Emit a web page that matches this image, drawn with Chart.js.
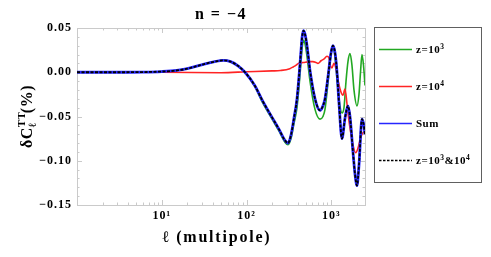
<!DOCTYPE html>
<html>
<head>
<meta charset="utf-8">
<script src="https://cdn.jsdelivr.net/npm/chart.js@4.4.1/dist/chart.umd.min.js"></script>
<style>
  html, body { margin: 0; padding: 0; background: #fff; }
  canvas { display: block; }
</style>
</head>
<body>
<canvas id="chart" width="491" height="257"></canvas>
<script>
// multipole l and delta C_l^TT (%)
const ellSum = [1, 3, 6, 10, 15, 20, 31, 42, 53, 65, 80, 96, 125, 156, 200, 240, 284, 309, 335, 363,
  394, 416, 440, 452, 470, 490, 517, 561, 643, 736, 798, 843, 915, 993, 1047, 1107, 1169, 1234, 1337, 1452,
  1574, 1663, 1803, 1905, 2011, 2123, 2303, 2400, 2500];
const sumVals = [0, 0, 0.0002, 0.0008, 0.002, 0.004, 0.009, 0.012, 0.0135, 0.012,
  0.007, 0.000, -0.015, -0.033, -0.051, -0.064, -0.077, -0.080, -0.071, -0.052,
  -0.030, -0.005, 0.025, 0.039, 0.047, 0.043, 0.030, 0.002, -0.030, -0.043,
  -0.038, -0.030, -0.005, 0.022, 0.030, 0.022, 0.000, -0.035, -0.075, -0.052,
  -0.038, -0.050, -0.090, -0.115, -0.128, -0.105, -0.053, -0.058, -0.070];

const ellZ3 = [1, 3, 6, 10, 15, 20, 31, 42, 53, 65, 80, 96, 125, 156, 200, 240, 284, 309, 335, 363,
  394, 416, 440, 452, 470, 490, 517, 561, 643, 736, 798, 843, 915, 993, 1047, 1107, 1169, 1234, 1337, 1413,
  1493, 1574, 1663, 1754, 1853, 2011, 2123, 2213, 2303, 2400, 2500];
const z3Vals = [0, 0, 0.0002, 0.0008, 0.002, 0.004, 0.009, 0.012, 0.0135, 0.012,
  0.007, 0.000, -0.016, -0.035, -0.053, -0.066, -0.079, -0.082, -0.075, -0.058,
  -0.040, -0.017, 0.012, 0.026, 0.036, 0.032, 0.018, -0.010, -0.042, -0.053,
  -0.050, -0.042, -0.012, 0.020, 0.029, 0.018, -0.008, -0.030, -0.046, -0.040,
  -0.010, 0.012, 0.021, 0.008, -0.020, -0.038, -0.025, 0.000, 0.020, 0.008,
  -0.015];

const ellZ4 = [1, 10, 50, 100, 200, 251, 324, 355, 385, 409, 470, 561, 607, 661, 697, 757, 823, 889, 938, 980,
  1020, 1074, 1137, 1196, 1298, 1372, 1452, 1530, 1617, 1710, 1803, 1940, 2065, 2180, 2303, 2400, 2500];
const z4Vals = [0, 0, -0.0005, 0.0005, 0.0015, 0.002, 0.004, 0.006, 0.008, 0.010,
  0.011, 0.012, 0.012, 0.011, 0.010, 0.013, 0.015, 0.018, 0.016, 0.007,
  0.005, 0.010, 0.004, -0.008, -0.022, -0.026, -0.019, -0.035, -0.055, -0.070,
  -0.082, -0.091, -0.086, -0.077, -0.070, -0.068, -0.067];

const xMajor = [10, 100, 1000];
const xLabels = { 10: '10\u00b9', 100: '10\u00b2', 1000: '10\u00b3' };
const yMajor = [-0.15, -0.10, -0.05, 0.00, 0.05];

const GREEN = '#22a822', RED = '#ff2424', BLUE = '#2626ff';
const SERIF = '"Liberation Serif", "DejaVu Serif", serif';

const toPts = (xs, ys) => xs.map((x, i) => ({ x: x, y: ys[i] }));

// text with raised / lowered pieces
function drawParts(ctx, parts, x, y, size) {
  let cx = x;
  parts.forEach(p => {
    const s = p.small ? size * 0.68 : size;
    ctx.font = 'bold ' + s + 'px ' + SERIF;
    ctx.fillText(p.t, cx, y + (p.dy || 0));
    if (p.adv !== undefined) cx += p.adv;
    else cx += ctx.measureText(p.t).width;
  });
  return cx - x;
}
function partsWidth(ctx, parts, size) {
  let w = 0;
  parts.forEach(p => {
    const s = p.small ? size * 0.68 : size;
    ctx.font = 'bold ' + s + 'px ' + SERIF;
    w += p.adv !== undefined ? p.adv : ctx.measureText(p.t).width;
  });
  return w;
}

const framePlugin = {
  id: 'frame',
  beforeDraw(chart) {
    chart.ctx.letterSpacing = '1px';
  },
  beforeDatasetsDraw(chart) {
    const { ctx, chartArea: a, scales: { x, y } } = chart;
    ctx.save();
    ctx.strokeStyle = '#cacaca';
    ctx.lineWidth = 1;
    ctx.strokeRect(a.left + 0.5, a.top + 0.5, a.right - a.left, a.bottom - a.top);
    ctx.beginPath();
    // log ticks, inward, top and bottom
    for (let d = 1; d <= 1000; d *= 10) {
      for (let k = 1; k <= 9; k++) {
        const v = d * k;
        if (v > 2500) break;
        const px = Math.round(x.getPixelForValue(v)) + 0.5;
        const len = k === 1 ? 5 : 2.5;
        ctx.moveTo(px, a.bottom); ctx.lineTo(px, a.bottom - len);
        ctx.moveTo(px, a.top); ctx.lineTo(px, a.top + len);
      }
    }
    // linear ticks, inward, left and right
    for (let i = 0; i <= 20; i++) {
      const v = -0.15 + i * 0.01;
      const py = Math.round(y.getPixelForValue(v)) + 0.5;
      const len = i % 5 === 0 ? 5 : 2.5;
      ctx.moveTo(a.left, py); ctx.lineTo(a.left + len, py);
      ctx.moveTo(a.right, py); ctx.lineTo(a.right - len, py);
    }
    ctx.stroke();
    ctx.restore();
  },
  afterDraw(chart) {
    const { ctx, chartArea: a } = chart;
    ctx.save();
    ctx.fillStyle = '#000';
    ctx.letterSpacing = '1.5px';
    ctx.textBaseline = 'alphabetic';

    // title
    ctx.font = 'bold 16px ' + SERIF;
    ctx.textAlign = 'center';
    ctx.fillText('n = \u22124', (a.left + a.right) / 2, 19);

    // x title
    ctx.letterSpacing = '1.8px';
    ctx.font = 'bold 16px ' + SERIF;
    ctx.fillText('\u2113 (multipole)', (a.left + a.right) / 2 - 4, 242);

    // y title, rotated
    ctx.textAlign = 'left';
    ctx.letterSpacing = '0.5px';
    const yParts = [
      { t: '\u03b4C' },
      { t: 'TT', small: true, dy: -7, adv: 0 },
      { t: '\u2113', small: true, dy: 4, adv: 14 },
      { t: '(%)' }
    ];
    ctx.translate(32, (a.top + a.bottom) / 2);
    ctx.rotate(-Math.PI / 2);
    const w = partsWidth(ctx, yParts, 16);
    drawParts(ctx, yParts, -w / 2, 0, 16);
    ctx.restore();

    // legend box
    ctx.save();
    ctx.strokeStyle = '#606060';
    ctx.lineWidth = 1;
    ctx.strokeRect(374.5, 27.5, 107, 155);
    const rows = [
      { color: GREEN, y: 49, parts: [{ t: 'z=10' }, { t: '3', small: true, dy: -4 }] },
      { color: RED, y: 86, parts: [{ t: 'z=10' }, { t: '4', small: true, dy: -4 }] },
      { color: BLUE, y: 123, parts: [{ t: 'Sum' }] },
      { color: '#000', dash: [2.5, 1.5], y: 160, parts: [{ t: 'z=10' }, { t: '3', small: true, dy: -4 }, { t: '&10' }, { t: '4', small: true, dy: -4 }] }
    ];
    ctx.letterSpacing = '0.5px';
    rows.forEach(r => {
      ctx.beginPath();
      ctx.strokeStyle = r.color;
      ctx.lineWidth = r.dash ? 1.3 : 1.6;
      ctx.setLineDash(r.dash || []);
      ctx.moveTo(379, r.y + 0.5);
      ctx.lineTo(412, r.y + 0.5);
      ctx.stroke();
      ctx.setLineDash([]);
      ctx.fillStyle = '#000';
      drawParts(ctx, r.parts, 416, r.y + 4, 11);
    });
    ctx.restore();
    ctx.letterSpacing = '0px';
  }
};

new Chart(document.getElementById('chart'), {
  type: 'line',
  data: {
    datasets: [
      { label: 'z=10^3&10^4', data: toPts(ellSum, sumVals), borderColor: '#000', borderWidth: 1.8, borderDash: [3, 1.5] },
      { label: 'Sum', data: toPts(ellSum, sumVals), borderColor: BLUE, borderWidth: 2.8 },
      { label: 'z=10^4', data: toPts(ellZ4, z4Vals), borderColor: RED, borderWidth: 1.6 },
      { label: 'z=10^3', data: toPts(ellZ3, z3Vals), borderColor: GREEN, borderWidth: 1.6 }
    ]
  },
  options: {
    responsive: false,
    animation: false,
    events: [],
    layout: { padding: { top: 28, right: 126, left: 0, bottom: 0 } },
    elements: {
      point: { radius: 0 },
      line: { cubicInterpolationMode: 'monotone', fill: false }
    },
    plugins: {
      legend: { display: false },
      tooltip: { enabled: false },
      title: { display: false }
    },
    scales: {
      x: {
        type: 'logarithmic',
        min: 1,
        max: 2500,
        afterFit: s => { s.height = 52; },
        afterBuildTicks: s => { s.ticks = xMajor.map(v => ({ value: v })); },
        ticks: {
          autoSkip: false,
          maxRotation: 0,
          padding: 4,
          color: '#000',
          font: { family: SERIF, weight: 'bold', size: 12 },
          callback: v => xLabels[v] || ''
        },
        grid: { display: false, drawTicks: false },
        border: { display: false }
      },
      y: {
        min: -0.15,
        max: 0.05,
        afterFit: s => { s.width = 77; },
        afterBuildTicks: s => { s.ticks = yMajor.map(v => ({ value: v })); },
        ticks: {
          padding: 5,
          color: '#000',
          font: { family: SERIF, weight: 'bold', size: 12 },
          callback: v => (v < -1e-9 ? '\u2212' : '') + Math.abs(v).toFixed(2)
        },
        grid: { display: false, drawTicks: false },
        border: { display: false }
      }
    }
  },
  plugins: [framePlugin]
});
</script>
</body>
</html>
